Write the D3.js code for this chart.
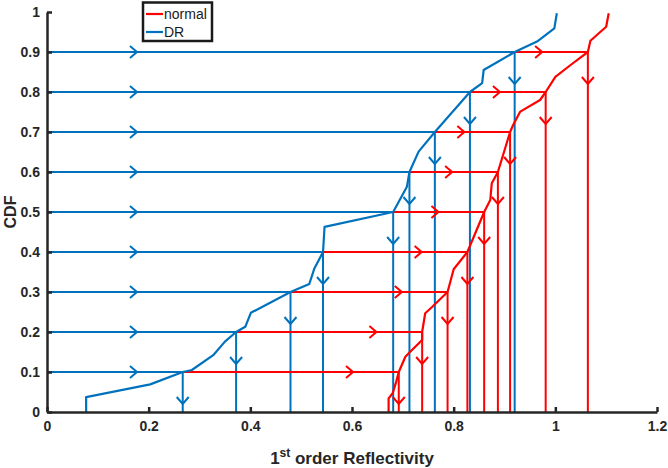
<!DOCTYPE html>
<html><head><meta charset="utf-8">
<script src="https://cdn.jsdelivr.net/npm/d3@7"></script>
<style>body{margin:0;background:#fff}svg{display:block}</style>
</head><body>
<script>
const cdfLevels = [0.1,0.2,0.3,0.4,0.5,0.6,0.7,0.8,0.9];
const drQuantiles = [0.267,0.372,0.479,0.543,0.681,0.713,0.763,0.832,0.920];
const normalQuantiles = [0.692,0.738,0.788,0.827,0.860,0.887,0.911,0.981,1.064];
const drCurveX = [0.077,0.077,0.203,0.267,0.285,0.327,0.350,0.372,0.390,0.401,0.479,0.516,0.526,0.543,0.546,0.681,0.708,0.713,0.731,0.763,0.832,0.856,0.859,0.920,0.964,0.998,1.003];
const drCurveY = [0,0.037,0.069,0.1,0.105,0.142,0.176,0.2,0.213,0.248,0.3,0.32,0.359,0.4,0.463,0.5,0.563,0.6,0.651,0.7,0.8,0.822,0.855,0.9,0.926,0.959,0.997];
const normalCurveX = [0.672,0.672,0.680,0.687,0.692,0.705,0.715,0.738,0.738,0.744,0.757,0.788,0.800,0.827,0.860,0.872,0.875,0.887,0.911,0.917,0.931,0.970,0.981,1.000,1.030,1.064,1.069,1.100,1.105];
const normalCurveY = [0,0.034,0.047,0.076,0.1,0.138,0.151,0.18,0.2,0.247,0.262,0.3,0.357,0.4,0.5,0.53,0.572,0.6,0.7,0.7175,0.751,0.78,0.8,0.838,0.8675,0.9,0.928,0.963,0.997];
const xTicks = [0,0.2,0.4,0.6,0.8,1,1.2];
const yTicks = [0,0.1,0.2,0.3,0.4,0.5,0.6,0.7,0.8,0.9,1];
const blueArrowX = 0.177;   // arrow tip position on DR horizontals
const redArrowOffset = 0.09; // arrow tip before normal quantile
const downArrowOffset = 0.08;

const W = 668, H = 468;
const BLUE = "#0072BD", RED = "#FF0000", AX = "#262626";
const svg = d3.select("body").append("svg").attr("width", W).attr("height", H);
const x = d3.scaleLinear().domain([0,1.2]).range([47,657]);
const y = d3.scaleLinear().domain([0,1]).range([412,12]);

const g = svg.append("g");
function hline(x0,x1,yy,c){g.append("line").attr("x1",x(x0)).attr("x2",x(x1)).attr("y1",y(yy)).attr("y2",y(yy)).attr("stroke",c).attr("stroke-width",2);}
function vline(xx,y0,y1,c){g.append("line").attr("x1",x(xx)).attr("x2",x(xx)).attr("y1",y(y0)).attr("y2",y(y1)).attr("stroke",c).attr("stroke-width",2);}
function rArrow(xx,yy,c){const px=x(xx),py=y(yy);g.append("path").attr("d",`M${px-7},${py-6}L${px},${py}L${px-7},${py+6}`).attr("fill","none").attr("stroke",c).attr("stroke-width",2);}
function dArrow(xx,yy,c){const px=x(xx),py=y(yy);g.append("path").attr("d",`M${px-6},${py-7}L${px},${py}L${px+6},${py-7}`).attr("fill","none").attr("stroke",c).attr("stroke-width",2);}

cdfLevels.forEach((p,i)=>{
  const a = drQuantiles[i];
  hline(0,a,p,BLUE); rArrow(blueArrowX,p,BLUE);
  vline(a,0,p,BLUE); dArrow(a,p-downArrowOffset,BLUE);
});
cdfLevels.forEach((p,i)=>{
  const a = drQuantiles[i], b = normalQuantiles[i];
  hline(a,b,p,RED); rArrow(b-redArrowOffset,p,RED);
  vline(b,0,p,RED); dArrow(b,p-downArrowOffset,RED);
});

const line = d3.line().x(d=>x(d[0])).y(d=>y(d[1]));
g.append("path").datum(normalCurveX.map((v,i)=>[v,normalCurveY[i]])).attr("d",line).attr("fill","none").attr("stroke",RED).attr("stroke-width",2.2).attr("stroke-linejoin","round");
g.append("path").datum(drCurveX.map((v,i)=>[v,drCurveY[i]])).attr("d",line).attr("fill","none").attr("stroke",BLUE).attr("stroke-width",2.2).attr("stroke-linejoin","round");

// axes
const font = "'Liberation Sans', Arial, sans-serif";
const xAxis = svg.append("g").attr("transform",`translate(0,${y(0)})`)
  .call(d3.axisBottom(x).tickValues(xTicks).tickFormat(d3.format("~g")).tickSizeInner(-5).tickSizeOuter(0).tickPadding(9));
const yAxis = svg.append("g").attr("transform",`translate(${x(0)},0)`)
  .call(d3.axisLeft(y).tickValues(yTicks).tickFormat(d3.format("~g")).tickSizeInner(-5).tickSizeOuter(0).tickPadding(7));
[xAxis,yAxis].forEach(a=>{
  a.select(".domain").attr("stroke",AX).attr("stroke-width",2.5);
  a.selectAll(".tick line").attr("stroke",AX).attr("stroke-width",2.5);
  a.selectAll("text").attr("fill",AX).style("font-family",font).style("font-size","14px").style("font-weight","bold");
});
// x label
const xl = svg.append("text").attr("x",352).attr("y",464).attr("text-anchor","middle")
  .style("font-family",font).style("font-size","17px").style("font-weight","bold").attr("fill",AX);
xl.append("tspan").text("1");
xl.append("tspan").attr("dy",-7).style("font-size","12px").text("st");
xl.append("tspan").attr("dy",7).text(" order Reflectivity");
svg.append("text").attr("transform",`translate(16,212) rotate(-90)`).attr("text-anchor","middle")
  .style("font-family",font).style("font-size","16px").style("font-weight","bold").attr("fill",AX).text("CDF");

// legend
const lg = svg.append("g");
lg.append("rect").attr("x",143).attr("y",2.5).attr("width",69).attr("height",38.5).attr("fill","#fff").attr("stroke","#1a1a1a").attr("stroke-width",2.5);
[["normal",RED,14],["DR",BLUE,32]].forEach(([t,c,yy])=>{
  lg.append("line").attr("x1",146).attr("x2",163).attr("y1",yy).attr("y2",yy).attr("stroke",c).attr("stroke-width",2.2);
  lg.append("text").attr("x",164).attr("y",yy+5).text(t).style("font-family",font).style("font-size","14px").attr("fill","#1a1a1a");
});
</script>
</body></html>
